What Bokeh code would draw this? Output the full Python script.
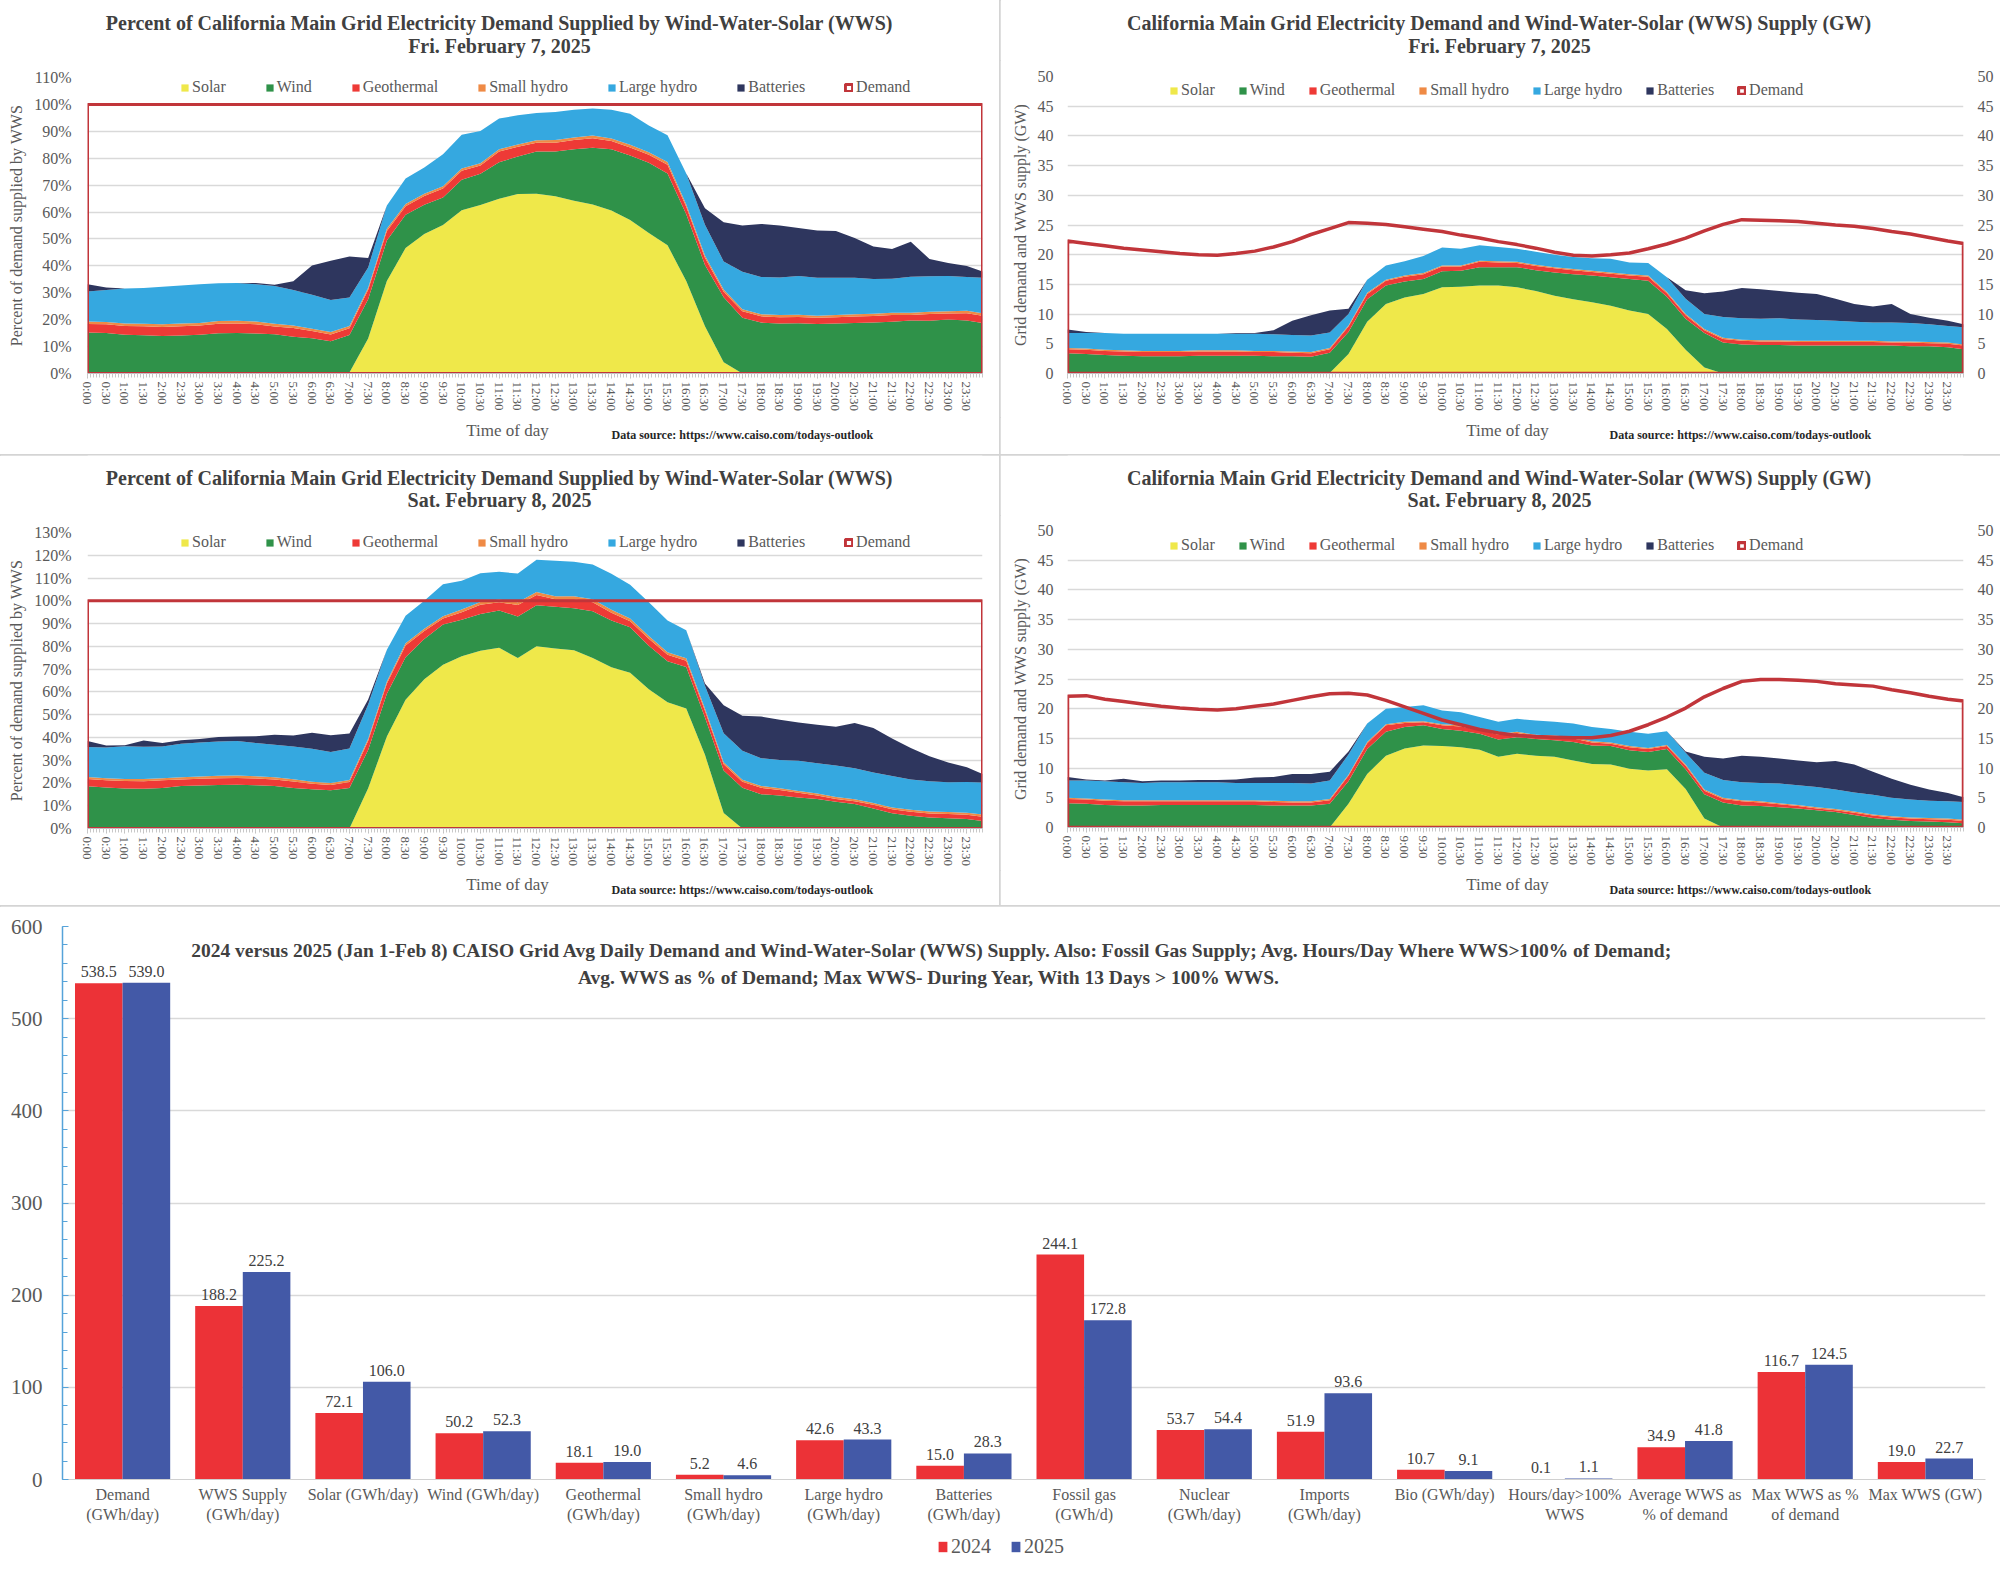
import math
from bokeh.plotting import figure
from bokeh.models import (Range1d, FixedTicker, LinearAxis, Legend, LegendItem, Label,
                          PrintfTickFormatter, ColumnDataSource, FactorRange)
from bokeh.layouts import column, row
from bokeh.embed import file_html
from bokeh.resources import INLINE
from bokeh.transform import dodge
from bokeh.core.properties import value

FONT = "Liberation Serif"
TXT = "#404040"
TICKC = "#595959"
GRID = "#d9d9d9"

# ---------------- data: half-hourly readings (GW) ----------------
TIMES = ["0:00", "0:30", "1:00", "1:30", "2:00", "2:30", "3:00", "3:30",
         "4:00", "4:30", "5:00", "5:30", "6:00", "6:30", "7:00", "7:30",
         "8:00", "8:30", "9:00", "9:30", "10:00", "10:30", "11:00", "11:30",
         "12:00", "12:30", "13:00", "13:30", "14:00", "14:30", "15:00", "15:30",
         "16:00", "16:30", "17:00", "17:30", "18:00", "18:30", "19:00", "19:30",
         "20:00", "20:30", "21:00", "21:30", "22:00", "22:30", "23:00", "23:30",
         "23:55"]
TICK_LABELS = TIMES[:-1]

SERIES_NAMES = ["Solar", "Wind", "Geothermal", "Small hydro", "Large hydro", "Batteries"]

# Fri. February 7, 2025
solar_0207 = [0, 0, 0, 0, 0, 0, 0, 0,
              0, 0, 0, 0, 0, 0, 0.1, 3.3,
              8.7, 11.7, 12.8, 13.4, 14.5, 14.6, 14.8, 14.8,
              14.5, 13.9, 13.1, 12.5, 12.0, 11.4, 10.6, 10.0,
              7.5, 4.0, 1.0, 0, 0, 0, 0, 0,
              0, 0, 0, 0, 0, 0, 0, 0,
              0]
wind_0207 = [3.4, 3.3, 3.1, 3.0, 2.9, 2.9, 2.9, 3.0,
             3.0, 3.0, 3.0, 2.9, 2.9, 2.8, 3.4, 3.7,
             3.8, 3.1, 2.7, 2.5, 2.7, 2.7, 3.1, 3.1,
             3.4, 3.5, 3.9, 4.2, 4.5, 4.8, 5.3, 5.6,
             5.4, 5.2, 5.8, 5.2, 4.9, 4.8, 4.8, 4.7,
             4.7, 4.7, 4.7, 4.7, 4.7, 4.6, 4.6, 4.4,
             4.1]
geo_0207 = [0.7, 0.7, 0.7, 0.7, 0.7, 0.7, 0.7, 0.7,
            0.7, 0.7, 0.6, 0.7, 0.6, 0.6, 0.6, 0.9,
            0.9, 0.8, 0.8, 0.8, 0.8, 0.7, 0.9, 0.8,
            0.7, 0.7, 0.7, 0.7, 0.6, 0.6, 0.6, 0.7,
            0.6, 0.6, 0.5, 0.6, 0.6, 0.6, 0.6, 0.6,
            0.6, 0.6, 0.6, 0.6, 0.5, 0.6, 0.5, 0.6,
            0.6]
smallhydro_0207 = [0.2, 0.2, 0.2, 0.2, 0.2, 0.2, 0.2, 0.2,
                   0.2, 0.2, 0.2, 0.2, 0.2, 0.2, 0.2, 0.2,
                   0.2, 0.2, 0.2, 0.2, 0.2, 0.2, 0.2, 0.2,
                   0.2, 0.2, 0.2, 0.2, 0.2, 0.2, 0.2, 0.2,
                   0.2, 0.2, 0.2, 0.2, 0.2, 0.2, 0.2, 0.2,
                   0.2, 0.2, 0.2, 0.2, 0.2, 0.2, 0.2, 0.2,
                   0.2]
largehydro_0207 = [2.5, 2.6, 2.8, 2.8, 2.9, 2.9, 2.9, 2.8,
                   2.8, 2.8, 2.9, 2.8, 2.8, 2.8, 2.6, 1.9,
                   2.2, 2.4, 2.4, 2.9, 3.0, 2.8, 2.6, 2.4,
                   2.2, 2.2, 2.1, 2.0, 2.1, 2.3, 2.0, 2.1,
                   2.5, 2.6, 2.5, 3.5, 3.6, 3.6, 3.7, 3.6,
                   3.5, 3.4, 3.2, 3.1, 3.2, 3.1, 3.0, 2.8,
                   2.9]
batteries_0207 = [0.6, 0.2, 0.0, 0.0, 0.0, 0.0, 0.0, 0.0,
                  0.0, 0.1, 0.1, 0.7, 2.4, 3.4, 3.7, 0.9,
                  0.0, 0.0, 0.0, 0.0, 0.0, 0.0, 0.0, 0.0,
                  0.0, 0.0, 0.0, 0.0, 0.0, 0.0, 0.0, 0.0,
                  0.0, 1.4, 3.5, 4.3, 5.1, 5.0, 4.6, 4.5,
                  4.4, 3.7, 3.0, 2.7, 3.1, 1.5, 1.1, 0.9,
                  0.5]
demand_0207 = [22.3, 21.9, 21.5, 21.1, 20.8, 20.5, 20.2, 20.0,
               19.9, 20.2, 20.6, 21.3, 22.2, 23.4, 24.4, 25.4,
               25.3, 25.1, 24.7, 24.3, 23.9, 23.3, 22.8, 22.2,
               21.7, 21.1, 20.4, 19.9, 19.8, 20.0, 20.3, 21.0,
               21.8, 22.8, 24.0, 25.1, 25.9, 25.8, 25.7, 25.6,
               25.3, 25.0, 24.8, 24.4, 23.9, 23.5, 22.9, 22.3,
               21.9]

# Sat. February 8, 2025
solar_0208 = [0, 0, 0, 0, 0, 0, 0, 0,
              0, 0, 0, 0, 0, 0, 0, 4.0,
              9.0, 12.1, 13.3, 13.8, 13.7, 13.5, 13.1, 11.9,
              12.4, 12.1, 11.9, 11.3, 10.7, 10.6, 9.9, 9.6,
              9.8, 6.5, 1.5, 0, 0, 0, 0, 0,
              0, 0, 0, 0, 0, 0, 0, 0,
              0]
wind_0208 = [4.1, 4.0, 3.8, 3.7, 3.7, 3.8, 3.8, 3.8,
             3.8, 3.8, 3.8, 3.7, 3.7, 3.7, 4.0, 3.8,
             4.2, 4.0, 3.6, 3.4, 2.9, 2.8, 2.7, 2.9,
             2.8, 2.8, 2.8, 3.1, 3.1, 3.1, 3.1, 3.1,
             3.4, 3.3, 4.1, 4.2, 3.7, 3.6, 3.4, 3.2,
             2.9, 2.6, 2.1, 1.6, 1.3, 1.1, 1.0, 0.9,
             0.7]
geo_0208 = [0.7, 0.7, 0.7, 0.7, 0.7, 0.6, 0.6, 0.6,
            0.6, 0.6, 0.6, 0.6, 0.5, 0.5, 0.6, 0.9,
            1.0, 1.1, 0.7, 0.5, 0.6, 0.7, 0.6, 0.8,
            0.7, 0.5, 0.6, 0.6, 0.5, 0.4, 0.5, 0.5,
            0.5, 0.6, 0.6, 0.6, 0.7, 0.6, 0.5, 0.4,
            0.3, 0.3, 0.4, 0.4, 0.4, 0.4, 0.4, 0.4,
            0.4]
smallhydro_0208 = [0.2, 0.2, 0.2, 0.2, 0.2, 0.2, 0.2, 0.2,
                   0.2, 0.2, 0.2, 0.2, 0.2, 0.2, 0.2, 0.2,
                   0.2, 0.2, 0.2, 0.2, 0.2, 0.2, 0.2, 0.2,
                   0.2, 0.2, 0.2, 0.2, 0.2, 0.2, 0.2, 0.2,
                   0.2, 0.2, 0.2, 0.2, 0.2, 0.2, 0.2, 0.2,
                   0.2, 0.2, 0.2, 0.2, 0.2, 0.2, 0.2, 0.2,
                   0.2]
largehydro_0208 = [2.9, 3.0, 3.1, 3.0, 2.9, 3.0, 3.0, 3.0,
                   3.0, 2.9, 2.9, 3.0, 3.1, 3.0, 3.1, 3.4,
                   3.1, 2.6, 2.5, 2.7, 2.3, 2.2, 2.0, 2.0,
                   2.2, 2.4, 2.3, 2.3, 2.4, 2.3, 2.4, 2.4,
                   2.3, 2.0, 2.8, 3.0, 3.0, 3.1, 3.3, 3.3,
                   3.4, 3.3, 3.2, 3.3, 3.1, 3.0, 2.9, 2.9,
                   3.0]
batteries_0208 = [0.6, 0.2, 0.1, 0.6, 0.3, 0.3, 0.3, 0.4,
                  0.4, 0.6, 0.9, 1.0, 1.5, 1.6, 1.5, 0.5,
                  0.0, 0.0, 0.0, 0.0, 0.0, 0.0, 0.0, 0.0,
                  0.0, 0.0, 0.0, 0.0, 0.0, 0.0, 0.0, 0.0,
                  0.0, 0.2, 2.7, 3.6, 4.5, 4.4, 4.2, 4.2,
                  4.2, 4.8, 4.7, 3.9, 3.2, 2.5, 1.9, 1.4,
                  0.8]
demand_0208 = [22.1, 22.2, 21.6, 21.2, 20.8, 20.4, 20.1, 19.9,
               19.8, 20.0, 20.4, 20.8, 21.4, 22.0, 22.5, 22.6,
               22.3, 21.4, 20.3, 19.2, 18.1, 17.3, 16.5, 15.9,
               15.5, 15.3, 15.2, 15.1, 15.1, 15.5, 16.2, 17.3,
               18.6, 20.1, 22.0, 23.4, 24.6, 24.9, 24.9, 24.8,
               24.6, 24.2, 24.0, 23.8, 23.2, 22.7, 22.1, 21.6,
               21.3]

# ---------------- bar chart data ----------------
CATEGORIES = ["Demand\n(GWh/day)", "WWS Supply\n(GWh/day)", "Solar (GWh/day)",
              "Wind (GWh/day)", "Geothermal\n(GWh/day)", "Small hydro\n(GWh/day)",
              "Large hydro\n(GWh/day)", "Batteries\n(GWh/day)", "Fossil gas\n(GWh/d)",
              "Nuclear\n(GWh/day)", "Imports\n(GWh/day)", "Bio (GWh/day)",
              "Hours/day>100%\nWWS", "Average WWS as\n% of demand",
              "Max WWS as %\nof demand", "Max WWS (GW)"]
V2024 = [538.5, 188.2, 72.1, 50.2, 18.1, 5.2, 42.6, 15.0, 244.1, 53.7, 51.9, 10.7,
         0.1, 34.9, 116.7, 19.0]
V2025 = [539.0, 225.2, 106.0, 52.3, 19.0, 4.6, 43.3, 28.3, 172.8, 54.4, 93.6, 9.1,
         1.1, 41.8, 124.5, 22.7]
YEARS = ["2024", "2025"]

# ---------------- styling ----------------
SERIES_COLORS = ["#efe84a", "#2f9249", "#ee3a36", "#ef8a45", "#35a8e0", "#2e365e"]
DEMAND_COLOR = "#c1353a"
RED24 = "#ec3237"
BLUE25 = "#4359a7"
PANEL_STYLE = {"box-shadow": "0 0 0 1px #d4d4d4"}


def hour_of(lbl):
    h, m = lbl.split(":")
    return int(h) + int(m) / 60.0


X = [hour_of(t) for t in TIMES]
MAJOR = [hour_of(t) for t in TICK_LABELS]
MINOR = [i / 12.0 for i in range(288)]


def blank_figure(w, h, x0, x1):
    # x range in panel pixels; the frame is aligned with the chart frame of the column
    f = figure(width=w, height=h, x_range=Range1d(x0, x1), y_range=Range1d(0, h),
               x_axis_type=None, y_axis_type=None, toolbar_location=None,
               output_backend="svg", min_border=0, min_border_left=0,
               min_border_right=0, min_border_top=0, min_border_bottom=0)
    f.outline_line_color = None
    f.xgrid.grid_line_color = None
    f.ygrid.grid_line_color = None
    return f


def text_label(x, y, txt, size, bold=False, align="center", color=TXT):
    return Label(x=x, y=y, text=txt, text_font=FONT, text_font_size=size,
                 text_font_style="bold" if bold else "normal", text_color=color,
                 text_align=align, text_baseline="middle")


def time_panel(borders, head_h, foot_h, title1, title2, title_y, foot_y,
               ymax, ystep, pct, day_series, demand, legend_pos, legend_spacing,
               foot_x):
    left, right, top, bottom = borders
    main_h = top + (296 if pct else 297) + bottom

    head = blank_figure(1000, head_h, left, 1000 - right)
    head.add_layout(text_label(499, head_h - title_y[0], title1, "20px", bold=True))
    head.add_layout(text_label(499, head_h - title_y[1], title2, "20px", bold=True))

    p = figure(width=1000, height=main_h, x_range=Range1d(X[0], X[-1]),
               y_range=Range1d(0, ymax), min_border_left=left, min_border_right=right,
               min_border_top=top, min_border_bottom=bottom, toolbar_location=None,
               output_backend="svg")
    p.outline_line_color = None
    p.xgrid.grid_line_color = None
    p.ygrid.grid_line_color = GRID
    p.ygrid.grid_line_width = 1.5

    base = [0.0] * len(X)
    items = []
    for vals, col, name in zip(day_series, SERIES_COLORS, SERIES_NAMES):
        if pct:
            vals = [v / d * 100.0 for v, d in zip(vals, demand)]
        topv = [b + v for b, v in zip(base, vals)]
        r = p.varea(x=X, y1=base, y2=topv, fill_color=col)
        items.append(LegendItem(label=name, renderers=[r]))
        base = topv
    dem = [d / d * 100.0 for d in demand] if pct else demand
    rd = p.patch([X[0]] + X + [X[-1]], [0] + dem + [0], fill_alpha=0,
                 line_color=DEMAND_COLOR, line_width=3.5 if not pct else 3)
    items.append(LegendItem(label="Demand", renderers=[rd]))

    yt = list(range(0, ymax + 1, ystep))
    p.yaxis.ticker = FixedTicker(ticks=yt)
    if pct:
        p.yaxis.formatter = PrintfTickFormatter(format="%d%%")
    axes = list(p.yaxis)
    if not pct:
        ra = LinearAxis(ticker=FixedTicker(ticks=yt))
        p.add_layout(ra, "right")
        axes.append(ra)
    for ax in axes:
        ax.axis_line_color = None
        ax.major_tick_line_color = None
        ax.minor_tick_line_color = None
        ax.major_tick_out = 0
        ax.major_tick_in = 0
        ax.minor_tick_out = 0
        ax.major_label_text_font = FONT
        ax.major_label_text_font_size = "16px"
        ax.major_label_text_color = TICKC
        ax.major_label_standoff = 16 if pct else 14
    p.yaxis[0].axis_label = ("Percent of demand supplied by WWS" if pct
                             else "Grid demand and WWS supply (GW)")
    p.yaxis[0].axis_label_text_font = FONT
    p.yaxis[0].axis_label_text_font_style = "normal"
    p.yaxis[0].axis_label_text_font_size = "16px"
    p.yaxis[0].axis_label_text_color = TICKC
    p.yaxis[0].axis_label_standoff = 6

    xa = p.xaxis[0]
    xa.ticker = FixedTicker(ticks=MAJOR, minor_ticks=MINOR)
    xa.major_label_overrides = {h: l for h, l in zip(MAJOR, TICK_LABELS)}
    xa.major_label_orientation = -math.pi / 2
    xa.major_label_text_font = FONT
    xa.major_label_text_font_size = "13px"
    xa.major_label_text_color = TICKC
    xa.axis_line_color = "#bfbfbf"
    xa.major_tick_line_color = "#bfbfbf"
    xa.major_tick_out = 5
    xa.major_tick_in = 0
    xa.minor_tick_line_color = "#c8c8c8"
    xa.minor_tick_out = 4
    xa.minor_tick_in = 0
    xa.major_label_standoff = 3

    legend = Legend(items=items, orientation="horizontal", location=legend_pos,
                    label_text_font=FONT, label_text_font_size="16px",
                    label_text_color=TICKC, glyph_width=9, glyph_height=9,
                    label_height=16, label_standoff=3, spacing=legend_spacing,
                    padding=0, margin=0, background_fill_alpha=0,
                    border_line_alpha=0)
    p.add_layout(legend)

    foot = blank_figure(1000, foot_h, left, 1000 - right)
    foot.add_layout(text_label(foot_x[0], foot_h - foot_y[0], "Time of day", "17px",
                               color=TICKC))
    foot.add_layout(text_label(foot_x[1], foot_h - foot_y[1],
                               "Data source: https://www.caiso.com/todays-outlook",
                               "12px", bold=True, align="left", color="#262626"))
    panel = column(head, p, foot, spacing=0)
    panel.styles = PANEL_STYLE
    return panel


feb7 = [solar_0207, wind_0207, geo_0207, smallhydro_0207, largehydro_0207, batteries_0207]
feb8 = [solar_0208, wind_0208, geo_0208, smallhydro_0208, largehydro_0208, batteries_0208]

T_PCT = "Percent of California Main Grid Electricity Demand Supplied by Wind-Water-Solar (WWS)"
T_GW = "California Main Grid Electricity Demand and Wind-Water-Solar (WWS) Supply (GW)"

# row 1: header 60, main 357, footer 38  (total 455)
p1 = time_panel((87, 18, 17, 44), 60, 38, T_PCT, "Fri. February 7, 2025", (22, 45),
                (13, 17), 110, 10, True, feb7, demand_0207, (93, 277), 39, (507, 611))
p2 = time_panel((67, 37, 16, 44), 60, 38, T_GW, "Fri. February 7, 2025", (22, 45),
                (13, 17), 50, 5, False, feb7, demand_0207, (102, 274), 23, (507, 609))
# row 2: header 60, main 355, footer 36  (total 451)
p3 = time_panel((87, 18, 17, 42), 60, 36, T_PCT, "Sat. February 8, 2025", (22, 44),
                (14, 19), 130, 10, True, feb8, demand_0208, (93, 277), 39, (507, 611))
p4 = time_panel((67, 37, 15, 43), 60, 36, T_GW, "Sat. February 8, 2025", (22, 44),
                (14, 19), 50, 5, False, feb8, demand_0208, (102, 273), 23, (507, 609))

# ---------------- bar chart ----------------
src = ColumnDataSource(data=dict(
    cat=CATEGORIES, v2024=V2024, v2025=V2025,
    l2024=["%.1f" % v for v in V2024], l2025=["%.1f" % v for v in V2025]))

pb = figure(width=2000, height=623, x_range=FactorRange(factors=CATEGORIES),
            y_range=Range1d(0, 600), min_border_left=62, min_border_right=15,
            min_border_top=20, min_border_bottom=50, toolbar_location=None,
            output_backend="svg")
pb.x_range.range_padding = 0
pb.x_range.factor_padding = 0
pb.outline_line_color = None
pb.xgrid.grid_line_color = None
pb.ygrid.grid_line_color = GRID
pb.ygrid.grid_line_width = 1.5

BW = 0.396
r24 = pb.vbar(x=dodge("cat", -BW / 2, range=pb.x_range), top="v2024", width=BW,
              source=src, fill_color=RED24, line_color=None)
r25 = pb.vbar(x=dodge("cat", BW / 2, range=pb.x_range), top="v2025", width=BW,
              source=src, fill_color=BLUE25, line_color=None)
pb.text(x=dodge("cat", -BW / 2, range=pb.x_range), y="v2024", text="l2024", source=src,
        text_align="center", text_baseline="bottom", y_offset=-6,
        text_font=value(FONT), text_font_size="16px", text_color=TXT)
pb.text(x=dodge("cat", BW / 2, range=pb.x_range), y="v2025", text="l2025", source=src,
        text_align="center", text_baseline="bottom", y_offset=-6,
        text_font=value(FONT), text_font_size="16px", text_color=TXT)

ya = pb.yaxis[0]
ya.ticker = FixedTicker(ticks=list(range(0, 601, 100)), minor_ticks=list(range(0, 601, 20)))
ya.axis_line_color = "#56a3d9"
ya.axis_line_width = 1.5
ya.major_tick_line_color = "#56a3d9"
ya.major_tick_in = 6
ya.major_tick_out = 0
ya.minor_tick_line_color = "#56a3d9"
ya.minor_tick_in = 5
ya.minor_tick_out = 0
ya.major_label_text_font = FONT
ya.major_label_text_font_size = "21px"
ya.major_label_text_color = TICKC
ya.major_label_standoff = 20

xb = pb.xaxis[0]
xb.axis_line_color = "#d0d0d0"
xb.major_tick_line_color = None
xb.minor_tick_line_color = None
xb.major_tick_out = 0
xb.major_label_text_font = FONT
xb.major_label_text_font_size = "16px"
xb.major_label_text_color = TICKC
xb.major_label_standoff = 6

BT1 = ("2024 versus 2025 (Jan 1-Feb 8) CAISO Grid Avg Daily Demand and Wind-Water-Solar (WWS) "
       "Supply. Also: Fossil Gas Supply; Avg. Hours/Day Where WWS>100% of Demand;")
BT2 = "Avg. WWS as % of Demand; Max WWS- During Year, With 13 Days > 100% WWS."
for txt, yy, xx in ((BT1, 529, 871), (BT2, 502, 867)):
    pb.add_layout(Label(x=xx, y=yy, x_units="screen", y_units="screen", text=txt,
                        text_font=FONT, text_font_size="19.5px", text_font_style="bold",
                        text_color=TXT, text_align="center", text_baseline="middle"))

# footer holding the legend (zero-size proxy bars only carry the legend colours)
fb = blank_figure(2000, 42, 62, 1985)
d24 = fb.vbar(x=[62], top=[0], width=0, fill_color=RED24, line_color=None)
d25 = fb.vbar(x=[62], top=[0], width=0, fill_color=BLUE25, line_color=None)
bleg = Legend(items=[LegendItem(label=YEARS[0], renderers=[d24]),
                     LegendItem(label=YEARS[1], renderers=[d25])],
              orientation="horizontal", location=(875, 13),
              label_text_font=FONT, label_text_font_size="20px", label_text_color=TICKC,
              glyph_width=11, glyph_height=13, label_height=20, label_standoff=3,
              spacing=19, padding=0, margin=0, background_fill_alpha=0,
              border_line_alpha=0)
fb.add_layout(bleg)

bottom = column(pb, fb, spacing=0)
bottom.styles = PANEL_STYLE

layout = column(row(p1, p2, spacing=0), row(p3, p4, spacing=0), bottom, spacing=0)
open("out.html", "w").write(file_html(layout, INLINE))
